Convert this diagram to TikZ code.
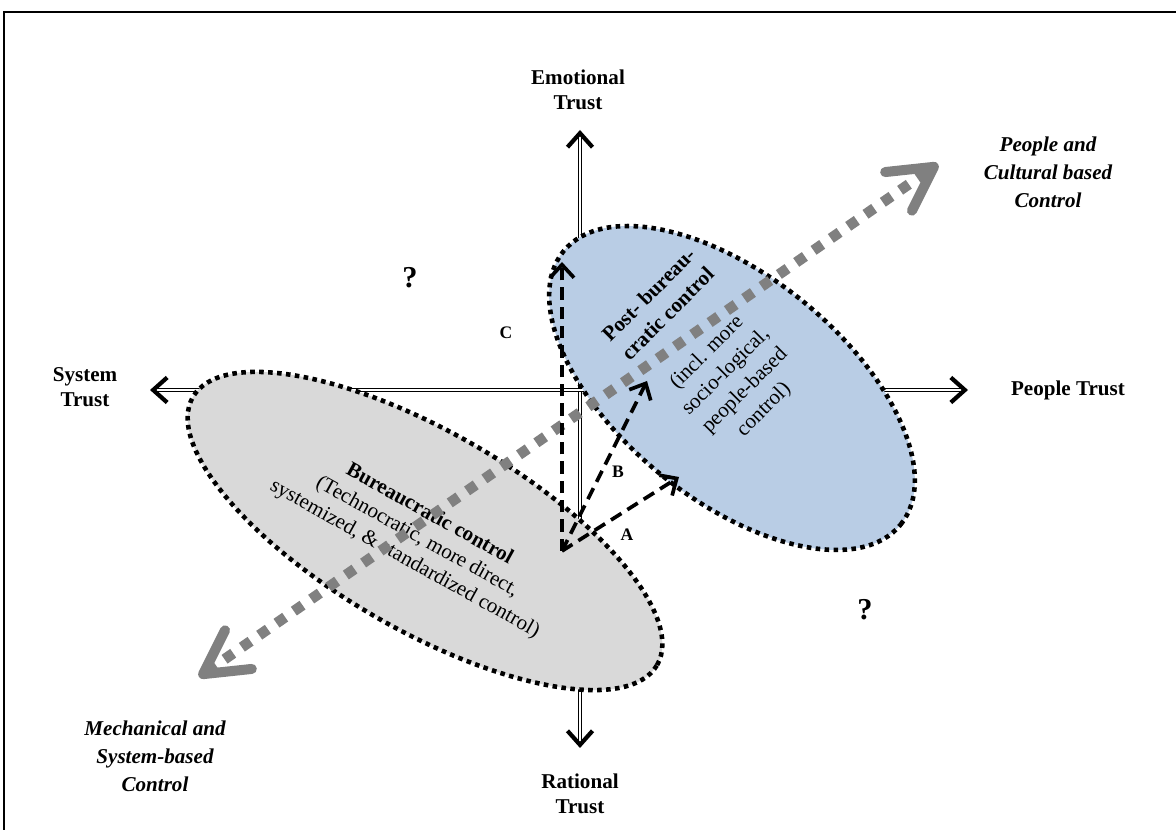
\documentclass[tikz,border=0pt]{standalone}
\usepackage{fontspec}
\setmainfont{Liberation Serif}
\usepackage{tikz}
\usetikzlibrary{arrows.meta}
\usetikzlibrary{shapes.geometric}
\usepackage{xcolor}
\definecolor{postcol}{HTML}{B9CDE5}
\definecolor{bureaucol}{HTML}{D9D9D9}
\colorlet{ctrlcol}{black!50}
\tikzstyle{trust axis}=[double,double distance=1.4pt,line width=0.6pt,
  {Straight Barb[length=2.8mm,width=5mm,line width=2.4pt]}-{Straight Barb[length=2.8mm,width=5mm,line width=2.4pt]}]
\tikzstyle{trust lbl}=[font=\fontsize{12}{14.5}\selectfont\bfseries,align=center]
\tikzstyle{ctrl lbl}=[font=\fontsize{12}{16}\selectfont\bfseries\itshape,align=center]
\tikzstyle{zone}=[ellipse,draw,line width=2.6pt,dash pattern=on 2.6pt off 2.5pt,inner sep=0pt]
\tikzstyle{move}=[line width=2.1pt,dash pattern=on 7pt off 4pt,-{Straight Barb[length=2.6mm,width=4.8mm,line width=2.1pt]}]
\tikzstyle{ctrl}=[ctrlcol,line width=6pt,dash pattern=on 6pt off 6pt,
  {Straight Barb[length=8.6mm,width=9.4mm,line width=5.7pt,round]}-{Straight Barb[length=8.6mm,width=9.4mm,line width=5.7pt,round]}]

\begin{document}
\begin{tikzpicture}
  \useasboundingbox (0,0) rectangle (23.52,16.6);
  \clip (0,0) rectangle (23.52,16.6);
  \draw[line width=1.1pt] (0.08,-1) rectangle (25,16.36);

  % the two trust axes
  \coordinate (N) at (11.6,14.0);
  \coordinate (S) at (11.6,1.64);
  \coordinate (W) at (3.0,8.8);
  \coordinate (E) at (19.36,8.8);
  \draw[trust axis] (S) -- (N);
  \draw[trust axis] (W) -- (E);

  \node[trust lbl] (emotional) at (11.56,14.8) {Emotional\\Trust};
  \node[trust lbl] (rational) at (11.6,0.72) {Rational\\Trust};
  \node[trust lbl] (systrust) at (1.7,8.86) {System\\Trust};
  \node[trust lbl] (peopletrust) at (21.36,8.8) {People Trust};

  % control zones
  \node[zone,fill=postcol,minimum width=8.68cm,minimum height=4.48cm,rotate=-39] (postell) at (14.64,8.84) {};
  \node[zone,fill=bureaucol,minimum width=10.72cm,minimum height=3.96cm,rotate=-30] (bureauell) at (8.5,5.98) {};

  \node[font=\fontsize{12}{15.3}\selectfont,align=center,rotate=45] (posttext) at (14.14,9.54)
    {\textbf{Post- bureau-}\\\textbf{cratic control}\\[15.3pt](incl. more\\socio-logical,\\people-based\\control)};
  \node[font=\fontsize{12}{14.5}\selectfont,align=center,rotate=-29] (bureautext) at (8.34,5.86)
    {\textbf{Bureaucratic control}\\(Technocratic, more direct,\\systemized, \& standardized control)};

  % control direction
  \coordinate (gtail) at (3.98,3.06);
  \coordinate (ghead) at (18.76,13.32);
  \draw[ctrl] (gtail) -- (ghead);
  \node[ctrl lbl] (peoplectl) at (20.96,13.16) {People and\\Cultural based\\Control};
  \node[ctrl lbl] (mechctl) at (3.1,1.48) {Mechanical and\\System-based\\Control};

  % moves A, B, C
  \coordinate (origin) at (11.24,5.58);
  \coordinate (tipA) at (13.58,7.06);
  \coordinate (tipB) at (12.94,8.98);
  \coordinate (tipC) at (11.24,11.36);
  \draw[move] (origin) -- (tipA);
  \draw[move] (origin) -- (tipB);
  \draw[move] (origin) -- (tipC);
  \node[font=\bfseries] (lblA) at (12.54,5.9) {A};
  \node[font=\bfseries] (lblB) at (12.36,7.16) {B};
  \node[font=\bfseries] (lblC) at (10.12,9.94) {C};

  \node[font=\LARGE\bfseries] (qa) at (8.2,11.04) {?};
  \node[font=\LARGE\bfseries] (qb) at (17.3,4.4) {?};
\end{tikzpicture}
\end{document}
